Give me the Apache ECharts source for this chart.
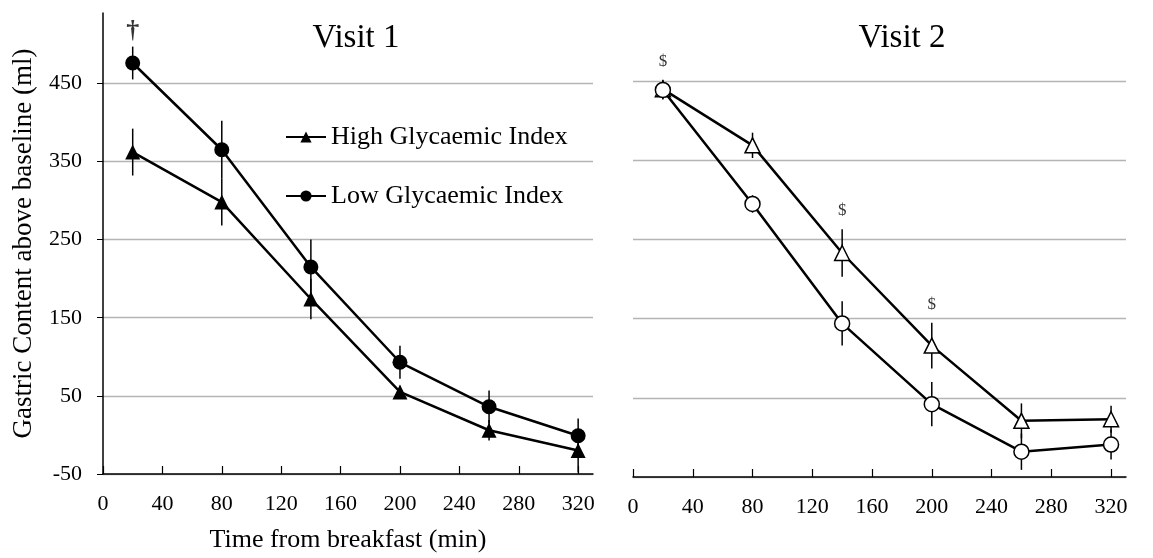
<!DOCTYPE html>
<html>
<head>
<meta charset="utf-8">
<script src="https://cdn.jsdelivr.net/npm/echarts@6/dist/echarts.min.js"></script>
<style>html,body{margin:0;padding:0;background:#fff}#c{width:1153px;height:558px}</style>
</head>
<body>
<div id="c"></div>
<script>
const xTimes = [20, 80, 140, 200, 260, 320];
const xTicks = [0, 40, 80, 120, 160, 200, 240, 280, 320];
const yTicks = [-50, 50, 150, 250, 350, 450];
const v1High = [362, 298, 174, 55, 6, -20];
const v1HighErr = [30, 30, 26, 8, 13, 28];
const v1Low = [476, 365, 215, 93, 36, -1];
const v1LowErr = [21, 37, 35, 21, 21, 22];
const v2High = [440, 369, 233, 116, 21, 23];
const v2HighErr = [12, 16, 30, 29, 22, 17];
const v2Low = [439, 295, 144, 42, -18, -9];
const v2LowErr = [12, 11, 28, 28, 23, 19];
const v1Marks = [{ x: 20, text: '†' }];
const v2Marks = [{ x: 140, text: '$' }, { x: 200, text: '$' }, { x: 20, text: '$' }];

const FONT = 'Liberation Serif';
const chart = echarts.init(document.getElementById('c'));

function pairs(vals) { return vals.map((v, i) => [xTimes[i], v]); }
function errData(vals, errs) { return vals.map((v, i) => [xTimes[i], v - errs[i], v + errs[i]]); }
function errSeries(vals, errs, gi) {
  return {
    type: 'custom', xAxisIndex: gi, yAxisIndex: gi, z: 1, silent: true,
    data: errData(vals, errs),
    renderItem: function (params, api) {
      const lo = api.coord([api.value(0), api.value(1)]);
      const hi = api.coord([api.value(0), api.value(2)]);
      return { type: 'line', shape: { x1: lo[0], y1: lo[1], x2: hi[0], y2: hi[1] }, style: { stroke: '#000', lineWidth: 1.5 } };
    }
  };
}
function markSeries(marks, aVals, aErr, bVals, bErr, gi, size, dist, weight) {
  return {
    type: 'scatter', xAxisIndex: gi, yAxisIndex: gi, symbolSize: 0, silent: true,
    data: marks.map(m => {
      const i = xTimes.indexOf(m.x);
      return { value: [m.x, Math.max(aVals[i] + aErr[i], bVals[i] + bErr[i])], name: m.text };
    }),
    label: { show: true, position: 'top', distance: dist, formatter: p => p.name, color: '#000', fontFamily: FONT, fontSize: size, fontWeight: weight }
  };
}
function lineSeries(name, vals, gi, symbol, filled, size) {
  return {
    name: name, type: 'line', xAxisIndex: gi, yAxisIndex: gi, z: 3,
    data: pairs(vals), symbol: symbol, symbolSize: size, showSymbol: true,
    lineStyle: { color: '#000', width: 2.5 },
    itemStyle: { color: filled ? '#000' : '#fff', borderColor: '#000', borderWidth: filled ? 0 : 1.5 }
  };
}
const xAxisBase = (gi) => ({
  type: 'value', gridIndex: gi, min: 0, max: 330,
  axisLine: { show: true, onZero: false, lineStyle: { color: '#000', width: 1.5 } },
  axisTick: { show: true, inside: true, length: 8, customValues: xTicks, lineStyle: { color: '#000', width: 1.2 } },
  axisLabel: { customValues: xTicks, color: '#000', fontFamily: FONT, fontSize: 22, margin: 19 },
  splitLine: { show: false }
});

chart.setOption({
  animation: false,
  backgroundColor: '#fff',
  title: [
    { text: 'Visit 1', left: 351, top: 17, textAlign: 'center', textStyle: { fontFamily: FONT, fontSize: 33, fontWeight: 'normal', color: '#000' } },
    { text: 'Visit 2', left: 897, top: 17, textAlign: 'center', textStyle: { fontFamily: FONT, fontSize: 33, fontWeight: 'normal', color: '#000' } }
  ],
  legend: {
    left: 285, top: 124, orient: 'vertical', itemGap: 33, itemWidth: 40, itemHeight: 14, padding: 0,
    data: ['High Glycaemic Index', 'Low Glycaemic Index'],
    textStyle: { fontFamily: FONT, fontSize: 26, color: '#000' }
  },
  grid: [
    { left: 103, right: 560, top: 13, bottom: 82 },
    { left: 633, right: 27, top: 10, bottom: 81 }
  ],
  xAxis: [
    Object.assign(xAxisBase(0), {
      name: 'Time from breakfast (min)', nameLocation: 'middle', nameGap: 53,
      nameTextStyle: { fontFamily: FONT, fontSize: 26, color: '#000' }
    }),
    xAxisBase(1)
  ],
  yAxis: [
    {
      type: 'value', gridIndex: 0, min: -50, max: 540,
      name: 'Gastric Content above baseline (ml)', nameLocation: 'middle', nameGap: 66,
      nameTextStyle: { fontFamily: FONT, fontSize: 27, color: '#000' },
      axisLine: { show: true, lineStyle: { color: '#000', width: 1.5 } },
      axisTick: { show: true, length: 6, customValues: yTicks, lineStyle: { color: '#000', width: 1 } },
      axisLabel: { customValues: yTicks, color: '#000', fontFamily: FONT, fontSize: 22, margin: 21 },
      splitLine: { show: true, lineStyle: { color: '#b4b4b4', width: 1.3 } }
    },
    {
      type: 'value', gridIndex: 1, min: -50, max: 540,
      axisLine: { show: false },
      axisTick: { show: false, customValues: yTicks },
      axisLabel: { show: false, customValues: yTicks },
      splitLine: { show: true, lineStyle: { color: '#b4b4b4', width: 1.3 } }
    }
  ],
  series: [
    errSeries(v1High, v1HighErr, 0),
    errSeries(v1Low, v1LowErr, 0),
    errSeries(v2High, v2HighErr, 1),
    errSeries(v2Low, v2LowErr, 1),
    lineSeries('High Glycaemic Index', v1High, 0, 'triangle', true, 15),
    lineSeries('Low Glycaemic Index', v1Low, 0, 'circle', true, 15),
    lineSeries('High Glycaemic Index (Visit 2)', v2High, 1, 'triangle', false, 15),
    lineSeries('Low Glycaemic Index (Visit 2)', v2Low, 1, 'circle', false, 15),
    markSeries(v1Marks, v1High, v1HighErr, v1Low, v1LowErr, 0, 26, 2, 'bold'),
    markSeries(v2Marks, v2High, v2HighErr, v2Low, v2LowErr, 1, 17, 10, 'normal')
  ]
});
</script>
</body>
</html>
